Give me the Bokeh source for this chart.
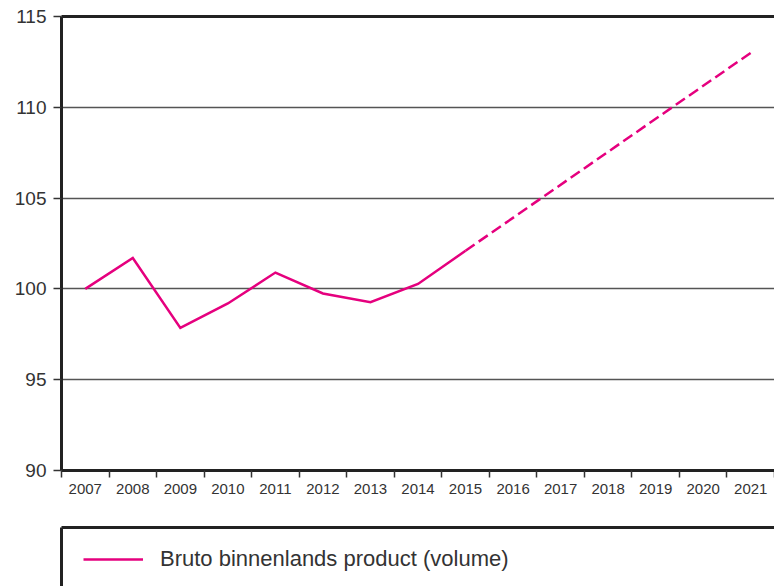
from bokeh.plotting import figure
from bokeh.models import Range1d, FixedTicker, LinearAxis, Legend, LegendItem
from bokeh.layouts import column
from bokeh.embed import file_html
from bokeh.resources import INLINE

# ---- data ----
years = list(range(2007, 2022))
year_labels = [str(y) for y in years]
actual_years = [2007, 2008, 2009, 2010, 2011, 2012, 2013, 2014, 2015]
actual_values = [100.0, 101.7, 97.85, 99.2, 100.9, 99.75, 99.27, 100.27, 102.1]
forecast_years = [2015, 2021]
forecast_values = [102.1, 113.0]
y_ticks = [90, 95, 100, 105, 110, 115]
grid_ticks = [95, 100, 105, 110]
series_label = "Bruto binnenlands product (volume)"

MAGENTA = "#E5007E"
TXT = "#333333"
DARK = "#222222"
FONT = "Liberation Sans"

W = 774

p = figure(width=W, height=515,
           x_range=Range1d(years[0] - 0.5, years[-1] + 0.5),
           y_range=Range1d(90, 115),
           output_backend="svg", toolbar_location=None,
           min_border_left=61, min_border_right=0,
           min_border_top=16, min_border_bottom=45)
p.outline_line_color = None
p.background_fill_color = "white"
p.border_fill_color = "white"

# x axis: labels centred in categories, ticks between them
xa = p.xaxis[0]
xa.ticker = FixedTicker(ticks=years,
                        minor_ticks=[y - 0.5 for y in years] + [years[-1] + 0.5])
xa.major_label_overrides = {y: l for y, l in zip(years, year_labels)}
xa.major_tick_line_color = None
xa.major_tick_out = 0
xa.major_tick_in = 0
xa.minor_tick_out = 7
xa.minor_tick_in = 0
xa.minor_tick_line_color = TXT
xa.minor_tick_line_width = 1.5
xa.axis_line_width = 3
xa.axis_line_color = DARK
xa.major_label_standoff = 6
xa.major_label_text_font = FONT
xa.major_label_text_font_size = "15px"
xa.major_label_text_color = TXT

ya = p.yaxis[0]
ya.ticker = FixedTicker(ticks=y_ticks)
ya.major_tick_out = 8
ya.major_tick_in = 0
ya.major_tick_line_color = TXT
ya.major_tick_line_width = 1.5
ya.minor_tick_line_color = None
ya.axis_line_width = 3
ya.axis_line_color = DARK
ya.major_label_standoff = 7
ya.major_label_text_font = FONT
ya.major_label_text_font_size = "19px"
ya.major_label_text_color = TXT

top_axis = LinearAxis(ticker=FixedTicker(ticks=[]), axis_line_width=3,
                      axis_line_color=DARK, major_tick_line_color=None,
                      minor_tick_line_color=None, major_label_text_font_size="0px")
p.add_layout(top_axis, "above")

p.xgrid.visible = False
p.ygrid.ticker = FixedTicker(ticks=grid_ticks)
p.ygrid.grid_line_color = "#555555"
p.ygrid.grid_line_width = 1.5

p.line(actual_years, actual_values, line_color=MAGENTA, line_width=2.5,
       line_join="miter")
p.line(forecast_years, forecast_values, line_color=MAGENTA, line_width=2.5,
       line_dash="11 5")

# ---- legend panel ----
lf = figure(width=W, height=71, x_range=Range1d(0, 1), y_range=Range1d(0, 1),
            x_axis_location="above",
            output_backend="svg", toolbar_location=None,
            min_border_left=61, min_border_right=0,
            min_border_top=12, min_border_bottom=0)
lf.outline_line_color = None
lf.grid.visible = False
for ax in (lf.xaxis[0], lf.yaxis[0]):
    ax.ticker = FixedTicker(ticks=[])
    ax.axis_line_width = 3
    ax.axis_line_color = DARK
    ax.major_tick_line_color = None
    ax.minor_tick_line_color = None
    ax.major_label_text_font_size = "0px"

# same series, drawn outside this panel's visible range: only its legend glyph shows
r = lf.line(actual_years, actual_values, line_color=MAGENTA, line_width=2.5)
legend = Legend(items=[LegendItem(label=series_label, renderers=[r])],
                location=(22, 14), glyph_width=60, glyph_height=20,
                label_height=20, label_standoff=17, padding=0, margin=0,
                border_line_color=None, background_fill_alpha=0,
                label_text_font=FONT, label_text_font_size="22px",
                label_text_color=TXT)
lf.add_layout(legend)

layout = column(p, lf, spacing=0)
open("out.html", "w").write(file_html(layout, INLINE))
